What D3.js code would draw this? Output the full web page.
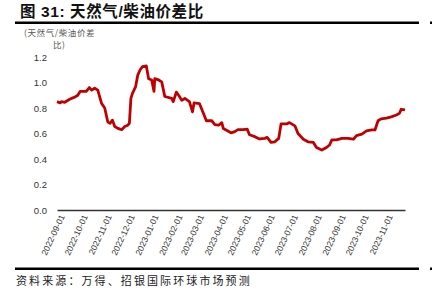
<!DOCTYPE html>
<html>
<head>
<meta charset="utf-8">
<script src="https://cdn.jsdelivr.net/npm/d3@7"></script>
<style>
  body { margin: 0; background: #fff; }
  svg { display: block; }
</style>
</head>
<body>
<svg id="chart"></svg>
<script>
// values
const dates = [
  "2022-09-01","2022-09-05","2022-09-07","2022-09-11","2022-09-18","2022-09-24","2022-09-28",
  "2022-10-01","2022-10-09","2022-10-13","2022-10-16","2022-10-20","2022-10-24","2022-10-27","2022-10-29",
  "2022-11-02","2022-11-04","2022-11-06","2022-11-09","2022-11-12","2022-11-15","2022-11-19","2022-11-24","2022-11-28",
  "2022-12-02","2022-12-04","2022-12-06","2022-12-08","2022-12-12","2022-12-15","2022-12-18","2022-12-21","2022-12-26","2022-12-29",
  "2023-01-02","2023-01-05","2023-01-06","2023-01-11","2023-01-15","2023-01-19","2023-01-28","2023-01-30",
  "2023-02-03","2023-02-07","2023-02-10","2023-02-14","2023-02-20","2023-02-24","2023-02-26",
  "2023-03-05","2023-03-10","2023-03-14","2023-03-21","2023-03-25","2023-03-30",
  "2023-04-03","2023-04-05","2023-04-11","2023-04-15","2023-04-20","2023-04-24",
  "2023-05-01","2023-05-06","2023-05-09","2023-05-16","2023-05-22","2023-05-29",
  "2023-06-01","2023-06-06","2023-06-11","2023-06-16","2023-06-19","2023-06-26","2023-06-30",
  "2023-07-07","2023-07-11","2023-07-18","2023-07-24","2023-07-31",
  "2023-08-04","2023-08-11","2023-08-17","2023-08-21","2023-08-24","2023-08-30",
  "2023-09-06","2023-09-14","2023-09-21","2023-09-25",
  "2023-10-02","2023-10-08","2023-10-15","2023-10-19","2023-10-23","2023-10-27",
  "2023-11-03","2023-11-09","2023-11-16","2023-11-20","2023-11-22","2023-11-27"
];
const ratio = [
  0.85,0.84,0.85,0.845,0.87,0.885,0.90,
  0.93,0.93,0.96,0.94,0.955,0.94,0.875,0.835,
  0.80,0.745,0.69,0.68,0.705,0.655,0.64,0.63,0.655,
  0.665,0.68,0.875,0.915,0.965,1.06,1.10,1.125,1.13,1.03,
  1.02,0.93,1.03,1.02,1.005,0.89,0.875,0.85,
  0.925,0.89,0.86,0.875,0.85,0.77,0.84,
  0.835,0.76,0.70,0.70,0.67,0.665,
  0.685,0.64,0.62,0.605,0.615,0.63,
  0.63,0.635,0.59,0.575,0.557,0.562,
  0.57,0.53,0.535,0.562,0.675,0.675,0.685,
  0.66,0.60,0.555,0.535,0.53,
  0.49,0.47,0.49,0.51,0.55,0.55,
  0.562,0.562,0.555,0.583,
  0.595,0.62,0.628,0.628,0.70,0.715,
  0.72,0.73,0.745,0.76,0.79,0.785
];
const monthTicks = [
  "2022-09-01","2022-10-01","2022-11-01","2022-12-01","2023-01-01","2023-02-01","2023-03-01",
  "2023-04-01","2023-05-01","2023-06-01","2023-07-01","2023-08-01","2023-09-01","2023-10-01","2023-11-01"
];
const yTicks = [0, 0.2, 0.4, 0.6, 0.8, 1.0, 1.2];

const W = 434, H = 299;
const parse = d3.timeParse("%Y-%m-%d");
const fmt = d3.timeFormat("%Y-%m-%d");

const svg = d3.select("#chart").attr("width", W).attr("height", H);

// title and rules
svg.append("text")
  .attr("x", 20).attr("y", 17)
  .attr("font-family", "Liberation Sans, 'Noto Sans CJK SC', sans-serif")
  .attr("font-size", 15.5).attr("font-weight", "bold").attr("fill", "#111")
  .attr("letter-spacing", 0.6)
  .text("图 31: 天然气/柴油价差比");

svg.append("rect").attr("x", 15).attr("y", 21.5).attr("width", 404).attr("height", 2.5).attr("fill", "#000");
svg.append("rect").attr("x", 430).attr("y", 21.5).attr("width", 2).attr("height", 2.5).attr("fill", "#000");
svg.append("rect").attr("x", 15).attr("y", 267.5).attr("width", 404).attr("height", 2.5).attr("fill", "#000");
svg.append("rect").attr("x", 430).attr("y", 267.5).attr("width", 2).attr("height", 2.5).attr("fill", "#000");

// unit label
const unit = svg.append("text")
  .attr("font-family", "'Noto Sans CJK SC', sans-serif")
  .attr("font-size", 8.5).attr("letter-spacing", 0.6).attr("fill", "#555");
unit.append("tspan").attr("x", 24).attr("y", 36).text("(天然气/柴油价差");
unit.append("tspan").attr("x", 53).attr("y", 48).text("比)");

const x = d3.scaleTime()
  .domain([parse("2022-09-01"), parse("2023-11-27")])
  .range([57, 405]);
const y = d3.scaleLinear().domain([0, 1.2]).range([210, 57]);

// y axis
const yAxis = svg.append("g")
  .attr("transform", "translate(57,0)")
  .call(d3.axisLeft(y).tickValues(yTicks).tickSize(0).tickPadding(10).tickFormat(d3.format(".1f")));
yAxis.select(".domain").remove();
yAxis.selectAll("text")
  .attr("font-family", "Liberation Sans, Arial, sans-serif")
  .attr("font-size", 9.5).attr("fill", "#333");

// x axis
const xAxis = svg.append("g")
  .attr("transform", "translate(0,210)")
  .call(d3.axisBottom(x).tickValues(monthTicks.map(parse)).tickSize(0).tickSizeOuter(0).tickFormat(fmt));
xAxis.select(".domain").attr("stroke", "#333").attr("stroke-width", 1.5);
xAxis.selectAll("text")
  .attr("font-family", "Liberation Sans, Arial, sans-serif")
  .attr("font-size", 8.5).attr("fill", "#333")
  .attr("text-anchor", "end")
  .attr("dy", "0.35em")
  .attr("transform", "translate(2,4) rotate(-65)");

// line
const series = dates.map((d, i) => ({ date: parse(d), value: ratio[i] }));
svg.append("path")
  .datum(series)
  .attr("fill", "none")
  .attr("stroke", "#c00000")
  .attr("stroke-width", 2.8)
  .attr("stroke-linejoin", "round")
  .attr("d", d3.line().x(d => x(d.date)).y(d => y(d.value)));

// source
svg.append("text")
  .attr("x", 16).attr("y", 285)
  .attr("font-family", "'Noto Sans CJK SC', sans-serif")
  .attr("font-size", 11).attr("letter-spacing", 2.1).attr("fill", "#222")
  .text("资料来源：万得、招银国际环球市场预测");
</script>
</body>
</html>
